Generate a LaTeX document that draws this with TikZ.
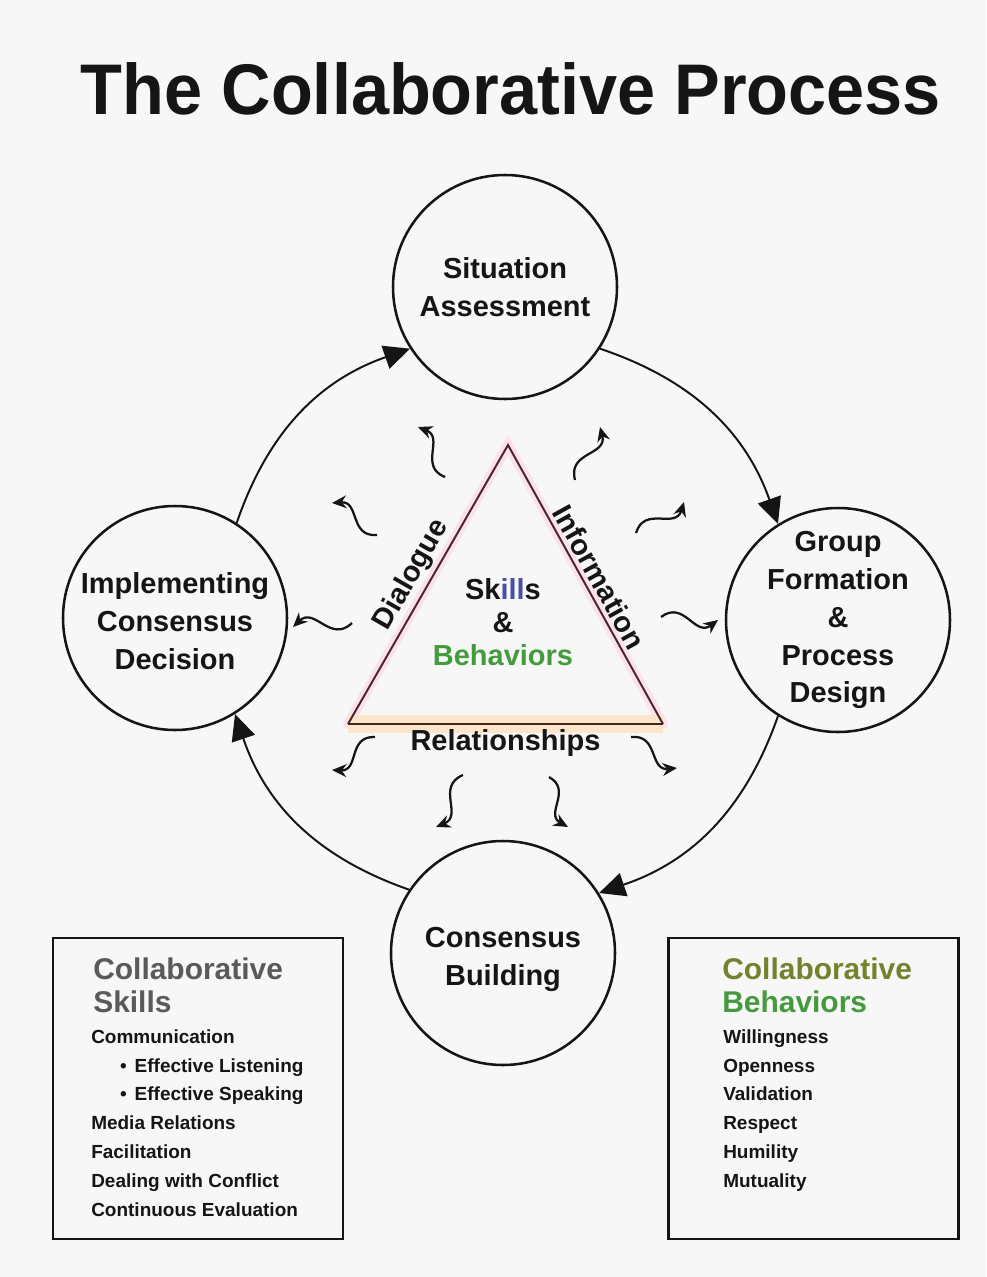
\documentclass[tikz,border=0pt]{standalone}
\usepackage{fontspec}
\setmainfont{Liberation Sans}
\usetikzlibrary{arrows.meta}
\definecolor{Ink}{HTML}{151515}
\definecolor{Paper}{HTML}{F7F7F7}
\definecolor{Blush}{HTML}{FBE1E9}
\definecolor{Apricot}{HTML}{FDE5CB}
\definecolor{SideLine}{HTML}{4A2630}
\definecolor{BaseLine}{HTML}{3E2A18}
\definecolor{SkillBlue}{HTML}{4B4FA0}
\definecolor{Leaf}{HTML}{459A3E}
\definecolor{Olive}{HTML}{76812E}
\definecolor{Slate}{HTML}{5A5A5A}
\tikzset{
  stage/.style={
    circle, draw=Ink, line width=1.8pt, fill=Paper,
    minimum size=56mm, inner sep=0pt
  },
  stagetext/.style={
    align=center, text=Ink,
    font=\fontsize{20.6pt}{27pt}\selectfont\bfseries
  },
  edgelabel/.style={
    text=Ink, inner sep=3pt,
    font=\fontsize{20.6pt}{24pt}\selectfont\bfseries
  },
  panel/.style={
    draw=Ink, line width=1.6pt, fill=Paper,
    minimum width=72.5mm, minimum height=75.25mm
  },
  paneltitle/.style={
    align=left, anchor=north west, inner sep=0pt,
    font=\fontsize{21.3pt}{22.8pt}\selectfont\bfseries
  },
  panellist/.style={
    align=left, anchor=north west, inner sep=0pt, text=Ink,
    font=\fontsize{13.5pt}{20.6pt}\selectfont\bfseries
  },
  loopflow/.style={-{Triangle[length=6.5mm,width=6mm]}, line width=1.4pt, draw=Ink},
  wave/.style={-{Stealth[length=3.6mm,width=3.2mm]}, line width=1.6pt, draw=Ink, looseness=1.3}
}

\begin{document}
\begin{tikzpicture}[x=0.25mm,y=-0.25mm]
    \fill[Paper] (0,0) rectangle (986,1277);
    \node[anchor=base,inner sep=0pt,text=Ink,font=\fontsize{51pt}{60pt}\selectfont\bfseries] (title) at (511,114) {\scalebox{0.955}[1]{The Collaborative Process}};

    % the four stages
    \node[stage] (sit) at (505,287) {};
    \node[stagetext] (sittext) at (sit) {Situation\\Assessment};
    \node[stage] (grp) at (838,620) {};
    \node[stagetext] (grptext) at (grp) {Group\\Formation\\\&\\Process\\Design};
    \node[stage] (cons) at (503,953) {};
    \node[stagetext, yshift=-1.5mm] (constext) at (cons) {Consensus\\Building};
    \node[stage] (impl) at (175,618) {};
    \node[stagetext, yshift=-0.8mm] (impltext) at (impl) {Implementing\\Consensus\\Decision};

    \draw[loopflow] (sit.-33) to[bend left=26] (grp.122);
    \draw[loopflow] (grp.-122) to[bend left=26] (cons.32);
    \draw[loopflow] (cons.146) to[bend left=26] (impl.-58);
    \draw[loopflow] (impl.57) to[bend left=26] (sit.-147);

    % triangle
    \coordinate (tA) at (508,445);
    \coordinate (tB) at (348,724);
    \coordinate (tC) at (663,724);
    \draw[line width=2.5mm, Blush, line cap=round] (tB) -- (tA) -- (tC);
    \draw[line width=4.5mm, Apricot] (tB) -- (tC);
    \draw[line width=1.4pt, SideLine] (tB) -- node[edgelabel, sloped, above] (dlg) {Dialogue} (tA)
        -- node[edgelabel, sloped, above] (info) {Information} (tC);
    \draw[line width=1.4pt, BaseLine] (tB) -- node[edgelabel, below] (rel) {Relationships} (tC);
    \node[stagetext, font=\fontsize{20.6pt}{23.5pt}\selectfont\bfseries] (core) at (503,622)
        {Sk{\color{SkillBlue}ill}s\\\&\\{\color{Leaf}Behaviors}};

    % wiggly arrows
    \coordinate (w1s) at (445,477); \coordinate (w1e) at (418,427);
    \coordinate (w2s) at (575,480); \coordinate (w2e) at (600,427);
    \coordinate (w3s) at (377,535); \coordinate (w3e) at (332,503);
    \coordinate (w4s) at (636,533); \coordinate (w4e) at (684,502);
    \coordinate (w5s) at (352,623); \coordinate (w5e) at (293,627);
    \coordinate (w6s) at (661,617); \coordinate (w6e) at (718,620);
    \coordinate (w7s) at (375,737); \coordinate (w7e) at (332,770);
    \coordinate (w8s) at (631,737); \coordinate (w8e) at (677,768);
    \coordinate (w9s) at (463,775); \coordinate (w9e) at (436,827);
    \coordinate (w10s) at (549,777); \coordinate (w10e) at (568,827);
    \draw[wave] (w1s) to[relative, out=40, in=220] (w1e);
    \draw[wave] (w2s) to[relative, out=40, in=220] (w2e);
    \draw[wave] (w3s) to[relative, out=40, in=220] (w3e);
    \draw[wave] (w4s) to[relative, out=40, in=220] (w4e);
    \draw[wave] (w5s) to[relative, out=40, in=220] (w5e);
    \draw[wave] (w6s) to[relative, out=40, in=220] (w6e);
    \draw[wave] (w7s) to[relative, out=-40, in=140] (w7e);
    \draw[wave] (w8s) to[relative, out=40, in=220] (w8e);
    \draw[wave] (w9s) to[relative, out=-40, in=140] (w9e);
    \draw[wave] (w10s) to[relative, out=40, in=220] (w10e);

    % the two boxes
    \node[panel] (skillbox) at (198,1088.5) {};
    \node[paneltitle, text=Slate] (skilltitle) at (93,958) {Collaborative\\Skills};
    \node[panellist] (skilllist) at (91,1029) {Communication\\
        \hspace*{7.2mm}\textbullet\hspace{2mm}Effective Listening\\
        \hspace*{7.2mm}\textbullet\hspace{2mm}Effective Speaking\\
        Media Relations\\Facilitation\\Dealing with Conflict\\Continuous Evaluation};

    \node[panel] (behavebox) at (813.5,1088.5) {};
    \node[paneltitle] (behavetitle) at (722,958) {{\color{Olive}Collaborative}\\{\color{Leaf}Behaviors}};
    \node[panellist] (behavelist) at (723,1029) {Willingness\\Openness\\Validation\\Respect\\Humility\\Mutuality};
  \end{tikzpicture}
\end{document}
